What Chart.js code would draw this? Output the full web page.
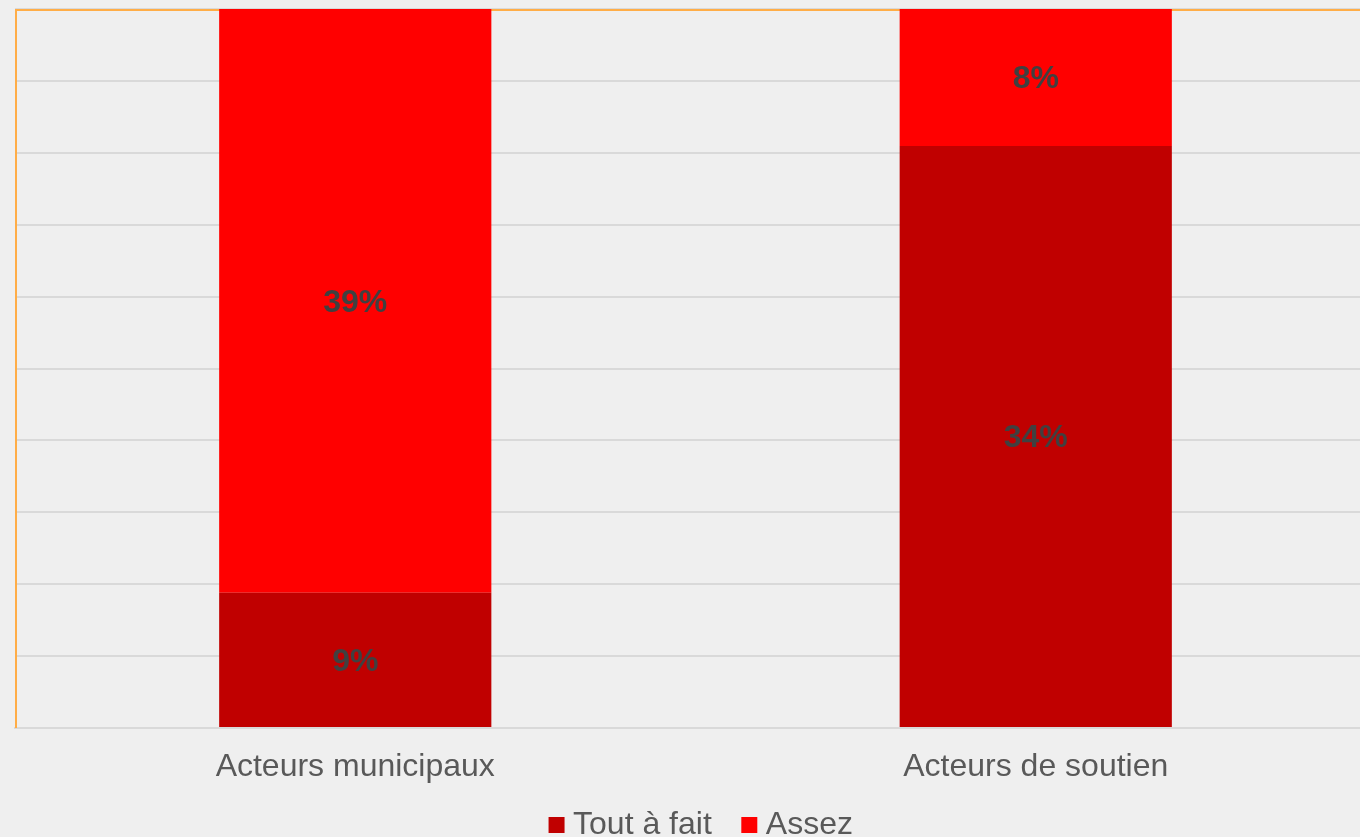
<!DOCTYPE html>
<html><head><meta charset="utf-8">
<script src="https://cdn.jsdelivr.net/npm/chart.js@4.4.1/dist/chart.umd.min.js"></script>
<style>
html,body{margin:0;padding:0;background:#efefef;overflow:hidden;width:1360px;height:837px;}
#wrap{position:absolute;left:0;top:0;width:1409px;height:851px;}
</style></head><body>
<div id="wrap"><canvas id="c"></canvas></div>
<script>
const categories = ['Acteurs municipaux', 'Acteurs de soutien'];
const seriesNames = ['Tout à fait', 'Assez'];
const toutAFait = [7.9, 34];
const assez = [39, 8];
const toutAFaitLabels = ['9%', '34%'];
const assezLabels = ['39%', '8%'];
const yMax = 42;
const gridCount = 11;

const FONT = '"Liberation Sans", Arial, sans-serif';
const pointLabels = [toutAFaitLabels, assezLabels];

// let the category labels overflow the (short) x-axis box instead of being clipped
const unclipLabels = {
  id: 'unclipLabels',
  afterLayout(chart) {
    const s = chart.scales.x;
    if (s) s.bottom = chart.height;
  }
};

const framePlugin = {
  id: 'frame',
  beforeDatasetsDraw(chart) {
    const {ctx, chartArea: a} = chart;
    ctx.save();
    ctx.fillStyle = '#ffad47';
    ctx.fillRect(a.left, a.top, a.right - a.left, 2);
    ctx.fillRect(a.left, a.top, 2, a.bottom - a.top);
    ctx.restore();
  }
};

const labelPlugin = {
  id: 'segLabels',
  afterDatasetsDraw(chart) {
    const {ctx, chartArea: a} = chart;
    ctx.save();
    ctx.font = 'bold 32px ' + FONT;
    ctx.fillStyle = '#404040';
    ctx.textAlign = 'center';
    ctx.textBaseline = 'middle';
    chart.data.datasets.forEach((ds, di) => {
      const meta = chart.getDatasetMeta(di);
      meta.data.forEach((el, i) => {
        const top = Math.max(Math.min(el.y, el.base), a.top);
        const bot = Math.min(Math.max(el.y, el.base), a.bottom);
        ctx.fillText(pointLabels[di][i], el.x, (top + bot) / 2 + 2);
      });
    });
    ctx.restore();
  }
};

new Chart(document.getElementById('c'), {
  type: 'bar',
  data: {
    labels: categories,
    datasets: [
      {label: seriesNames[0], data: toutAFait, backgroundColor: '#c00000', clip: 0,
       barPercentage: 0.4, categoryPercentage: 1},
      {label: seriesNames[1], data: assez, backgroundColor: '#ff0000', clip: 0,
       barPercentage: 0.4, categoryPercentage: 1}
    ]
  },
  options: {
    responsive: true,
    maintainAspectRatio: false,
    animation: false,
    layout: {padding: {top: 9, left: 0, right: 0, bottom: 0}},
    plugins: {
      tooltip: {enabled: false},
      legend: {
        position: 'bottom',
        labels: {
          usePointStyle: true, pointStyle: 'rect',
          boxWidth: 1, boxHeight: 16, padding: 37, color: '#595959',
          font: {family: FONT, size: 32}
        }
      }
    },
    scales: {
      x: {
        stacked: true,
        grid: {display: false},
        border: {display: true, color: '#d9d9d9', width: 2},
        ticks: {color: '#595959', font: {family: FONT, size: 32}, padding: 12, maxRotation: 0},
        afterFit(s) { s.height = 44; }
      },
      y: {
        stacked: true,
        min: 0, max: yMax,
        ticks: {display: false, count: gridCount},
        grid: {color: '#d9d9d9', lineWidth: 2, drawTicks: false},
        border: {display: false},
        afterFit(s) { s.width = 15; }
      },
      yR: {
        position: 'right',
        min: 0, max: 1,
        ticks: {display: false},
        grid: {display: false, drawTicks: false},
        border: {display: false},
        afterFit(s) { s.width = 33; }
      }
    }
  },
  plugins: [unclipLabels, framePlugin, labelPlugin]
});
</script>
</body></html>
